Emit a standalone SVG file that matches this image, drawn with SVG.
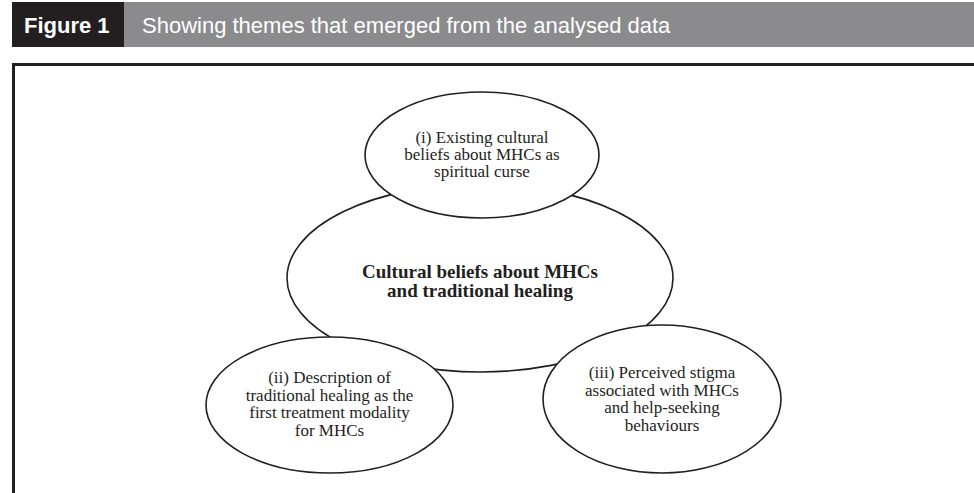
<svg xmlns="http://www.w3.org/2000/svg" width="974" height="493" viewBox="0 0 974 493">
<style>
.hdr{font-family:"Liberation Sans",Arial,sans-serif;font-size:22px;fill:#ffffff}
.node ellipse{fill:#ffffff;stroke:#231f20;stroke-width:1.6}
.lbl{font-family:"Liberation Serif","Times New Roman",serif;font-size:17px;fill:#231f20;text-anchor:middle}
.main{font-family:"Liberation Serif","Times New Roman",serif;font-size:19px;font-weight:bold;fill:#231f20;text-anchor:middle}
</style>
<rect x="0" y="0" width="974" height="493" fill="#ffffff"/>
<g id="header">
<rect x="124" y="2" width="850" height="45" fill="#8b8b8e"/>
<rect x="12" y="2" width="112" height="45" fill="#231f20"/>
<text class="hdr" x="24" y="33" font-weight="bold">Figure 1</text>
<text class="hdr" x="142" y="33">Showing themes that emerged from the analysed data</text>
</g>
<path d="M13.5,493 V64.5 H974" fill="none" stroke="#231f20" stroke-width="3"/>
<g id="connectors"></g>
<g id="central" class="node">
<ellipse cx="480" cy="278" rx="193" ry="94"/>
<text class="main" x="480" y="278">Cultural beliefs about MHCs</text>
<text class="main" x="480" y="297">and traditional healing</text>
</g>
<g id="theme1" class="node">
<ellipse cx="482" cy="155" rx="117" ry="63"/>
<text class="lbl" x="482" y="143">(i) Existing cultural</text>
<text class="lbl" x="482" y="160">beliefs about MHCs as</text>
<text class="lbl" x="482" y="177">spiritual curse</text>
</g>
<g id="theme2" class="node">
<ellipse cx="329.5" cy="405" rx="123.5" ry="68"/>
<text class="lbl" x="329.5" y="383">(ii) Description of</text>
<text class="lbl" x="329.5" y="400.5">traditional healing as the</text>
<text class="lbl" x="329.5" y="418">first treatment modality</text>
<text class="lbl" x="329.5" y="435.5">for MHCs</text>
</g>
<g id="theme3" class="node">
<ellipse cx="662" cy="399" rx="119" ry="74"/>
<text class="lbl" x="662" y="378">(iii) Perceived stigma</text>
<text class="lbl" x="662" y="395.5">associated with MHCs</text>
<text class="lbl" x="662" y="413">and help-seeking</text>
<text class="lbl" x="662" y="430.5">behaviours</text>
</g>
</svg>
